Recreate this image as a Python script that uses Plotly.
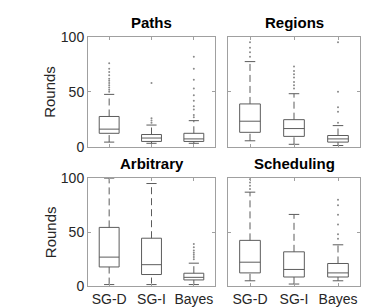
import plotly.graph_objects as go

W, H = 388, 308

categories = ["SG-D", "SG-I", "Bayes"]
panels = ["Paths", "Regions", "Arbitrary", "Scheduling"]
y_ticks = [0, 50, 100]

# per panel: [SG-D, SG-I, Bayes]
q1 = {
    "Paths": [12.3, 4.9, 4.9],
    "Regions": [13.2, 9.5, 4.3],
    "Arbitrary": [17.8, 10.8, 5.8],
    "Scheduling": [12.3, 8.5, 8.5],
}
median = {
    "Paths": [16.1, 8.0, 7.2],
    "Regions": [23.3, 16.6, 7.2],
    "Arbitrary": [26.9, 19.9, 8.2],
    "Scheduling": [22.2, 15.5, 12.3],
}
q3 = {
    "Paths": [27.6, 11.2, 12.3],
    "Regions": [39.0, 24.7, 10.3],
    "Arbitrary": [54.4, 44.4, 12.0],
    "Scheduling": [42.4, 31.8, 21.0],
}
lower = {
    "Paths": [4.3, 3.2, 3.2],
    "Regions": [5.5, 2.3, 1.2],
    "Arbitrary": [1.5, 1.5, 1.5],
    "Scheduling": [5.0, 2.0, 5.0],
}
upper = {
    "Paths": [47.7, 19.8, 23.8],
    "Regions": [77.5, 48.3, 19.3],
    "Arbitrary": [100.0, 95.0, 21.3],
    "Scheduling": [87.0, 66.4, 38.3],
}
outliers = {
    "Paths": [
        [50, 52, 54, 56, 58, 60, 62, 65, 68, 71, 76],
        [22, 24, 26, 58],
        [27, 29, 34, 37, 42, 47, 53, 61, 71, 82],
    ],
    "Regions": [
        [82, 86, 90, 95],
        [53, 56, 59, 63, 66, 69, 73],
        [22, 32, 36, 50, 95],
    ],
    "Arbitrary": [
        [],
        [],
        [25, 27, 29, 31, 33, 36, 39],
    ],
    "Scheduling": [
        [90, 93, 96, 99],
        [],
        [44, 48, 57, 66, 75, 80],
    ],
}

BOX_W = 0.47
CAP_HW = 0.12
LINE_C = "#5c5c5c"
AX_C = "#a0a0a0"
TXT_C = "#262626"
FONT = "Liberation Sans, Arial, sans-serif"

# pixel layout -> paper fractions
x_dom = [(80 / W, 207 / W), (220 / W, 352 / W)]
y_dom = [((H - 138) / H, (H - 22) / H), ((H - 285) / H, (H - 171) / H)]

fig = go.Figure()
layout = {}
annotations = []
positions = [1, 2, 3]

for i, name in enumerate(panels):
    r, c = divmod(i, 2)
    idx = "" if i == 0 else str(i + 1)
    xa, ya = "x" + idx, "y" + idx
    # boxes
    fig.add_trace(go.Box(
        x=positions, q1=q1[name], median=median[name], q3=q3[name],
        lowerfence=q1[name], upperfence=q3[name],
        width=BOX_W, whiskerwidth=0,
        fillcolor="rgba(0,0,0,0)", line=dict(color=LINE_C, width=1),
        boxpoints=False, xaxis=xa, yaxis=ya, showlegend=False, hoverinfo="skip",
    ))
    # dashed whiskers
    wx, wy = [], []
    cx, cy = [], []
    ox, oy = [], []
    for k, p in enumerate(positions):
        wx += [p, p, None, p, p, None]
        wy += [q3[name][k], upper[name][k], None, lower[name][k], q1[name][k], None]
        cx += [p - CAP_HW, p + CAP_HW, None, p - CAP_HW, p + CAP_HW, None]
        cy += [upper[name][k], upper[name][k], None, lower[name][k], lower[name][k], None]
        for v in outliers[name][k]:
            ox.append(p)
            oy.append(v)
    fig.add_trace(go.Scatter(x=wx, y=wy, mode="lines",
                             line=dict(color=LINE_C, width=1, dash="7px,4px"),
                             xaxis=xa, yaxis=ya, showlegend=False, hoverinfo="skip"))
    fig.add_trace(go.Scatter(x=cx, y=cy, mode="lines",
                             line=dict(color=LINE_C, width=1),
                             xaxis=xa, yaxis=ya, showlegend=False, hoverinfo="skip"))
    fig.add_trace(go.Scatter(x=ox, y=oy, mode="markers",
                             marker=dict(color="#8a8a8a", size=2, symbol="circle",
                                         line=dict(width=0)),
                             xaxis=xa, yaxis=ya, showlegend=False, hoverinfo="skip"))

    axis_common = dict(showline=True, linecolor=AX_C, linewidth=1, mirror="ticks",
                       ticks="inside", ticklen=3, tickcolor=AX_C, showgrid=False,
                       zeroline=False, fixedrange=True,
                       tickfont=dict(family=FONT, size=14, color=TXT_C))
    layout["xaxis" + idx] = dict(
        axis_common, domain=list(x_dom[c]), anchor=ya, range=[0.5, 3.5],
        tickvals=positions, ticktext=categories, showticklabels=(r == 1))
    layout["yaxis" + idx] = dict(
        axis_common, domain=list(y_dom[r]), anchor=xa, range=[0, 100],
        tickvals=y_ticks, showticklabels=(c == 0))

    # title
    annotations.append(dict(
        text="<b>" + name + "</b>", xref="paper", yref="paper",
        x=(x_dom[c][0] + x_dom[c][1]) / 2, y=y_dom[r][1] + 4 / H,
        xanchor="center", yanchor="bottom", showarrow=False,
        font=dict(family=FONT, size=15, color="#000000")))
    if c == 0:
        annotations.append(dict(
            text="Rounds", xref="paper", yref="paper", textangle=-90,
            x=42 / W, y=(y_dom[r][0] + y_dom[r][1]) / 2,
            xanchor="center", yanchor="middle", showarrow=False,
            font=dict(family=FONT, size=15, color=TXT_C)))

fig.update_layout(
    width=W, height=H, margin=dict(l=0, r=0, t=0, b=0),
    paper_bgcolor="white", plot_bgcolor="white",
    annotations=annotations, **layout)

fig.write_html("out.html")
